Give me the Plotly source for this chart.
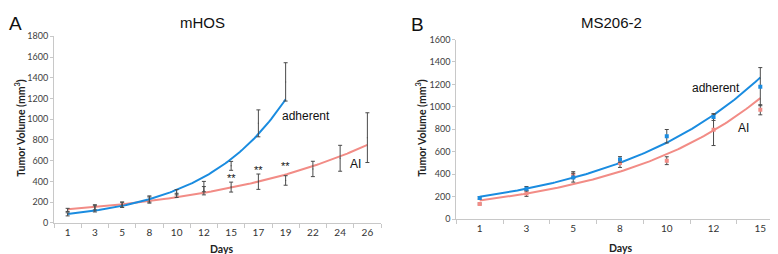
import numpy as np
import plotly.graph_objects as go

# ---------------- data ----------------
days_a = ["1", "3", "5", "8", "10", "12", "15", "17", "19", "22", "24", "26"]
adh_a = [82, 135, 175, 230, 295, 350, 550, 960, 1360]
adh_a_err = [15, 30, 25, 30, 25, 50, 43, 130, 185]
ai_a = [125, 150, 175, 220, 265, 310, 345, 397, 409, 520, 623, 822]
ai_a_err = [15, 25, 25, 30, 20, 40, 48, 74, 46, 74, 125, 240]
stars_days_a = ["15", "17", "19"]
stars_vals_a = [437, 513, 545]

days_b = ["1", "3", "5", "8", "10", "12", "15"]
adh_b = [188, 270, 369, 531, 738, 909, 1180]
adh_b_err = [10, 20, 40, 25, 60, 30, 170]
ai_b = [134, 227, 392, 500, 520, 795, 974]
ai_b_err = [8, 25, 30, 40, 35, 140, 45]

BLUE = "#1A8CE0"
PINK = "#F28C86"
ERR = "#4a4a4a"
AXC = "#c8c8c8"
TICKF = dict(family="Lato, Open Sans, sans-serif", size=9, color="#404040")

fig = go.Figure()


def fit_curve(vals):
    x = np.arange(len(vals))
    b, ln_a = np.polyfit(x, np.log(vals), 1)
    xs = np.linspace(0, len(vals) - 1, 120)
    return xs, np.exp(ln_a) * np.exp(b * xs)


def add_panel(days, adh, adh_err, ai, ai_err, xa, ya, msize):
    for vals, err, col in [(ai, ai_err, PINK), (adh, adh_err, BLUE)]:
        xs, ys = fit_curve(vals)
        fig.add_trace(go.Scatter(x=xs, y=ys, mode="lines", line=dict(color=col, width=2),
                                 xaxis=xa, yaxis=ya, showlegend=False, hoverinfo="skip"))
    for vals, err, col in [(ai, ai_err, PINK), (adh, adh_err, BLUE)]:
        fig.add_trace(go.Scatter(x=list(range(len(vals))), y=vals, mode="markers",
                                 marker=dict(color=col if msize > 1 else ERR, size=msize, symbol="square"),
                                 error_y=dict(type="data", array=err, color=ERR, thickness=1, width=2),
                                 xaxis=xa, yaxis=ya, showlegend=False))


add_panel(days_a, adh_a, adh_a_err, ai_a, ai_a_err, "x", "y", 1)
add_panel(days_b, adh_b, adh_b_err, ai_b, ai_b_err, "x2", "y2", 4)

xcommon = dict(showline=True, linecolor=AXC, linewidth=1, showgrid=False, zeroline=False,
               ticks="", tickfont=dict(family="Lato, Open Sans, sans-serif", size=10, color="#333"),
               minor=dict(ticks="outside", ticklen=4, tickcolor=AXC, tick0=0.5, dtick=1, showgrid=False))
ycommon = dict(showline=True, linecolor=AXC, linewidth=1, showgrid=False, zeroline=False,
               ticks="outside", ticklen=3, tickcolor=AXC, tickfont=TICKF)

fig.update_layout(
    width=778, height=254, margin=dict(l=0, r=0, t=0, b=0),
    paper_bgcolor="white", plot_bgcolor="white",
    xaxis=dict(domain=[46 / 778, 373 / 778], range=[-0.5, len(days_a) - 0.5],
               tickvals=list(range(len(days_a))), ticktext=days_a, anchor="y", **xcommon),
    yaxis=dict(domain=[(254 - 218.3) / 254, (254 - 23.3) / 254], range=[0, 1800], dtick=200,
               anchor="x", **ycommon),
    xaxis2=dict(domain=[448.3 / 778, 775.7 / 778], range=[-0.5, len(days_b) - 0.5],
                tickvals=list(range(len(days_b))), ticktext=days_b, anchor="y2", **xcommon),
    yaxis2=dict(domain=[(254 - 214.3) / 254, (254 - 26.7) / 254], range=[0, 1600], dtick=200,
                anchor="x2", **ycommon),
)

ann = []
txt = dict(family="Liberation Sans, Arial, sans-serif", color="#111")
# panel letters and titles
ann.append(dict(text="A", x=8, y=10, font=dict(size=19, **txt)))
ann.append(dict(text="mHOS", x=195, y=9, font=dict(size=15, **txt)))
ann.append(dict(text="B", x=409, y=11, font=dict(size=19, **txt)))
ann.append(dict(text="MS206-2", x=603, y=9, font=dict(size=15, **txt)))
# axis titles
boldf = dict(family="Lato, Open Sans, sans-serif", size=10.5, color="#222")
ann.append(dict(text="<b>Tumor Volume (mm<sup>3</sup>)</b>", x=12, y=119, textangle=-90, font=boldf))
ann.append(dict(text="<b>Tumor Volume (mm<sup>3</sup>)</b>", x=413, y=119, textangle=-90, font=boldf))
ann.append(dict(text="<b>Days</b>", x=213, y=245.5, font=boldf))
ann.append(dict(text="<b>Days</b>", x=612, y=245, font=boldf))
# series labels
ann.append(dict(text="adherent", x=298, y=107, font=dict(size=12, **txt)))
ann.append(dict(text="AI", x=347, y=157, font=dict(size=12, **txt)))
ann.append(dict(text="adherent", x=708, y=77, font=dict(size=12, **txt)))
ann.append(dict(text="AI", x=735, y=119, font=dict(size=12, **txt)))

for a in ann:
    fig.add_annotation(text=a["text"], x=a["x"] / 778, y=1 - a["y"] / 254, xref="paper", yref="paper",
                       showarrow=False, xanchor="center", yanchor="middle",
                       textangle=a.get("textangle", 0), font=a["font"])

for d, v in zip(stars_days_a, stars_vals_a):
    fig.add_annotation(text="**", x=days_a.index(d), y=v, xref="x", yref="y", showarrow=False,
                       font=dict(size=11, **txt), yanchor="middle")

fig.write_html("out.html")
